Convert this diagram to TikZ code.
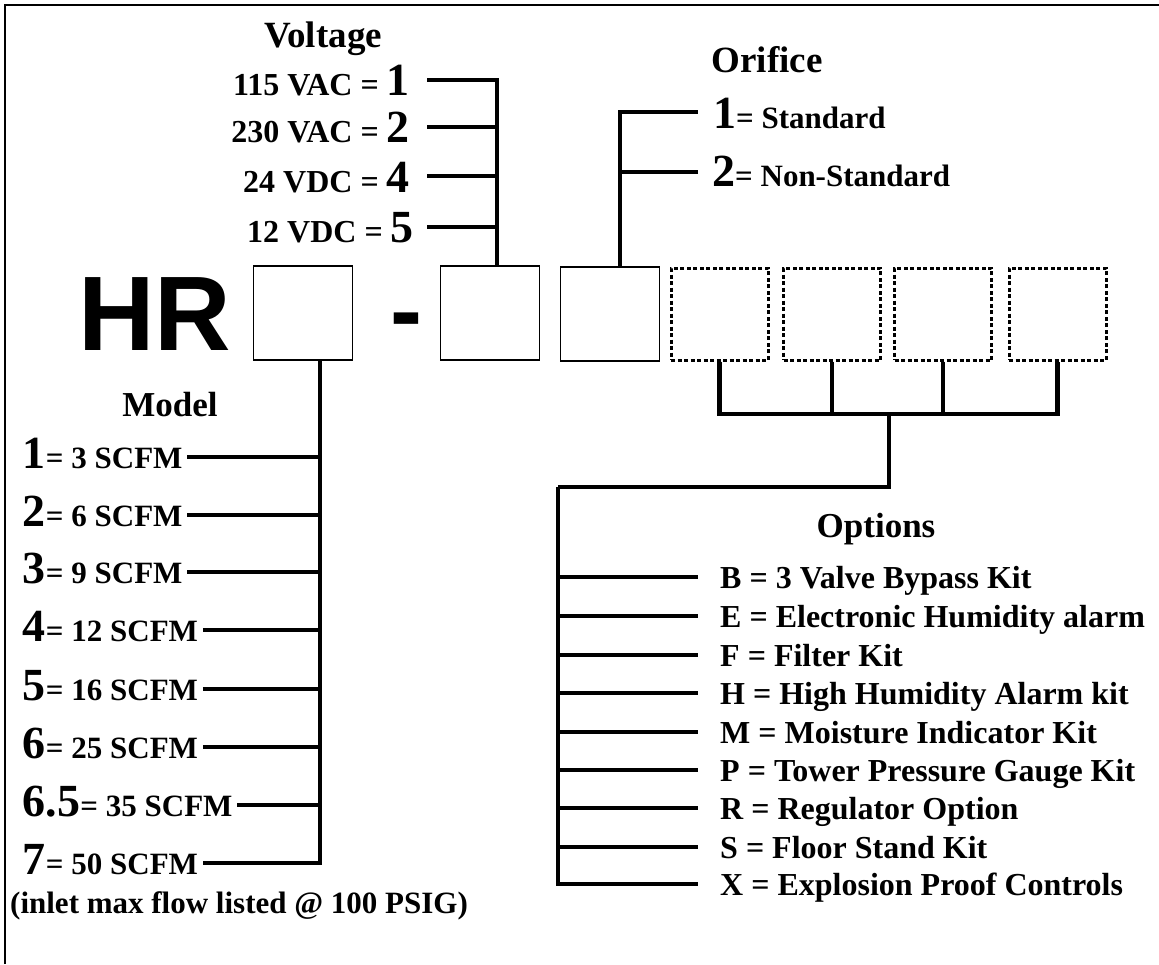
\documentclass[tikz,border=0pt]{standalone}
\usepackage{fontspec}
\setmainfont{Liberation Serif}
\newfontfamily\hrfont{Liberation Sans}
\newcommand{\bd}[1]{{\fontsize{46}{46}\selectfont #1}}
\begin{document}
\begin{tikzpicture}[x=1pt,y=-1pt,
  conn/.style={line width=4.5pt, line cap=butt, line join=miter},
  solidbox/.style={draw, line width=1.6pt, minimum width=99pt, minimum height=94pt, inner sep=0pt},
  dashbox/.style={draw, line width=3pt, dash pattern=on 4pt off 2.5pt, minimum width=97pt, minimum height=92pt, inner sep=0pt},
  title/.style={font=\bfseries\fontsize{37}{40}\selectfont, inner sep=0pt, anchor=base},
  vlab/.style={font=\bfseries\fontsize{32}{36}\selectfont, inner sep=0pt, anchor=base east},
  olab/.style={font=\bfseries\fontsize{31}{36}\selectfont, inner sep=0pt, anchor=base west},
  mlab/.style={font=\bfseries\fontsize{31}{36}\selectfont, inner sep=0pt, anchor=base west, outer xsep=5pt},
  plab/.style={font=\bfseries\fontsize{32}{36}\selectfont, inner sep=0pt, anchor=base west}
]
\useasboundingbox (0,0) rectangle (1159,964);
\draw[line width=2pt] (5,964) -- (5,5) -- (1159,5);

% code letters and boxes
\node[font=\hrfont\bfseries\fontsize{106}{106}\selectfont, inner sep=0pt, anchor=base west] (hr) at (78,350) {HR};
\node[font=\hrfont\bfseries\fontsize{96}{96}\selectfont, inner sep=0pt, anchor=base] (dash) at (406,343) {-};
\node[solidbox] (b1) at (303,313) {};
\node[solidbox] (b2) at (490,313) {};
\node[solidbox] (b3) at (610,314) {};
\node[dashbox] (d1) at (719.5,314) {};
\node[dashbox] (d2) at (832,314) {};
\node[dashbox] (d3) at (943,314) {};
\node[dashbox] (d4) at (1057.5,314) {};

% Voltage
\node[title] (vt) at (323,47) {Voltage};
\node[vlab] (v1) at (410,95) {115 VAC = \bd{1}};
\node[vlab] (v2) at (410,142) {230 VAC = \bd{2}};
\node[vlab] (v3) at (410,192) {24 VDC = \bd{4}};
\node[vlab] (v4) at (414,242) {12 VDC = \bd{5}};
\coordinate (vtop) at (497,80);
\coordinate (vs1) at (427,80);
\coordinate (vs2) at (427,127);
\coordinate (vs3) at (427,176);
\coordinate (vs4) at (427,227);
\draw[conn] (b2.north -| vtop) -- (vtop) -- (vs1);
\draw[conn] (vs2) -- (vs2 -| vtop);
\draw[conn] (vs3) -- (vs3 -| vtop);
\draw[conn] (vs4) -- (vs4 -| vtop);

% Orifice
\node[title] (ot) at (767,72) {Orifice};
\node[olab] (o1) at (713,128) {\bd{1}= Standard};
\node[olab] (o2) at (712,186) {\bd{2}= Non-Standard};
\coordinate (otop) at (620,112);
\coordinate (os1) at (698,112);
\coordinate (os2) at (698,172);
\draw[conn] (b3.north -| otop) -- (otop) -- (os1);
\draw[conn] (os2) -- (os2 -| otop);

% Model
\node[title, font=\bfseries\fontsize{35}{40}\selectfont] (mt) at (170,416) {Model};
\node[mlab] (m1) at (18,468) {\bd{1}= 3 SCFM};
\node[mlab] (m2) at (18,526) {\bd{2}= 6 SCFM};
\node[mlab] (m3) at (18,583) {\bd{3}= 9 SCFM};
\node[mlab] (m4) at (18,641) {\bd{4}= 12 SCFM};
\node[mlab] (m5) at (18,700) {\bd{5}= 16 SCFM};
\node[mlab] (m6) at (18,758) {\bd{6}= 25 SCFM};
\node[mlab] (m7) at (18,816) {\bd{6.5}= 35 SCFM};
\node[mlab] (m8) at (18,874) {\bd{7}= 50 SCFM};
\coordinate (mr1) at (320,457);
\coordinate (mr2) at (320,515);
\coordinate (mr3) at (320,572);
\coordinate (mr4) at (320,630);
\coordinate (mr5) at (320,689);
\coordinate (mr6) at (320,747);
\coordinate (mr7) at (320,805);
\coordinate (mr8) at (320,863);
\draw[conn] (b1.south -| mr8) -- (mr8) -- (m8.east |- mr8);
\foreach \i in {1,...,7} { \draw[conn] (m\i.east |- mr\i) -- (mr\i); }
\node[font=\bfseries\fontsize{31}{36}\selectfont, inner sep=0pt, anchor=base west] (inlet) at (10,913) {(inlet max flow listed @ 100 PSIG)};

% Options
\coordinate (dbar) at (889,414);
\coordinate (obus) at (558,487);
\draw[conn] (d1.south) |- (d4.south |- dbar) -- (d4.south);
\draw[conn] (d2.south) -- (d2.south |- dbar);
\draw[conn] (d3.south) -- (d3.south |- dbar);
\draw[conn] (dbar) |- (obus);
\node[title, font=\bfseries\fontsize{35}{40}\selectfont] (pt) at (876,537) {Options};
\foreach \n/\y/\t in {1/577/{B = 3 Valve Bypass Kit}, 2/616/{E = Electronic Humidity alarm}, 3/655/{F = Filter Kit}, 4/693/{H = High Humidity Alarm kit}, 5/732/{M = Moisture Indicator Kit}, 6/770/{P = Tower Pressure Gauge Kit}, 7/808/{R = Regulator Option}, 8/847/{S = Floor Stand Kit}, 9/884/{X = Explosion Proof Controls}} {
  \coordinate (or\n) at (698,\y);
  \node[plab] (p\n) at (720,\y+11) {\t};
}
\draw[conn] (obus) -- (obus |- or9) -- (or9);
\foreach \n in {1,...,8} { \draw[conn] (obus |- or\n) -- (or\n); }
\end{tikzpicture}
\end{document}
